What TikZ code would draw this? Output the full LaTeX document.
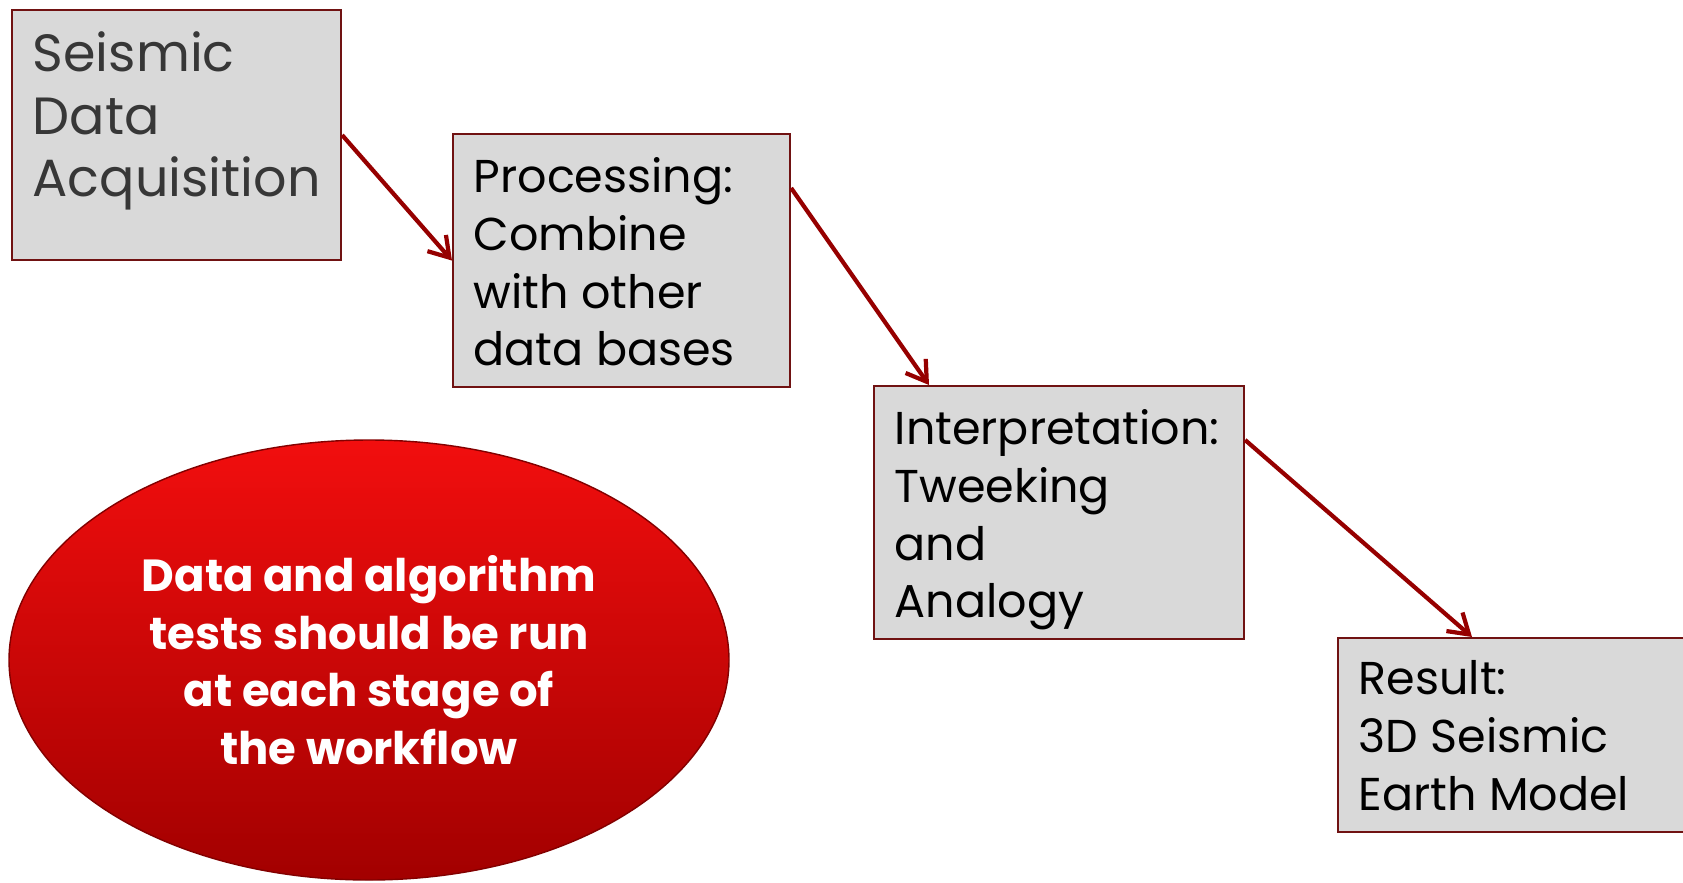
\documentclass[tikz,border=0pt]{standalone}
\usepackage{fontspec}
\setmainfont{Poppins}
\usetikzlibrary{shapes.geometric, arrows.meta, positioning, calc}
\definecolor{boxfill}{RGB}{217,217,217}
\definecolor{boxline}{RGB}{112,18,18}
\definecolor{flowred}{RGB}{150,0,0}
\definecolor{softgray}{RGB}{55,55,55}
\definecolor{bubbletop}{RGB}{242,14,14}
\definecolor{bubblemid}{RGB}{214,0,0}
\definecolor{bubblebot}{RGB}{162,0,0}

\begin{document}
\begin{tikzpicture}[
    stage/.style={draw=boxline, fill=boxfill, line width=0.6pt, anchor=north west, inner sep=0pt},
    stagetext/.style={align=left, inner sep=0pt, font=\fontsize{13.1}{16.4}\selectfont},
    flow/.style={-{Straight Barb[length=5.5pt, width=7pt]}, line width=1.2pt, flowred}
]
    \useasboundingbox (0,0) rectangle (16.83,8.82);

    % Stage boxes
    \node[stage, minimum width=3.29cm, minimum height=2.50cm] (acq) at (0.11,8.73) {};
    \node[stage, minimum width=3.37cm, minimum height=2.53cm] (proc) at (4.52,7.49) {};
    \node[stage, minimum width=3.70cm, minimum height=2.53cm] (interp) at (8.73,4.97) {};
    \node[stage, minimum width=3.70cm, minimum height=1.94cm] (result) at (13.37,2.45) {};

    % Box texts
    \node[stagetext, text=softgray, font=\fontsize{14.9}{17.8}\selectfont,
        below right=0.22cm and 0.21cm of acq.north west] (acqtxt)
        {Seismic\\Data\\Acquisition};
    \node[stagetext, below right=0.24cm and 0.21cm of proc.north west] (proctxt)
        {Processing:\\Combine\\with other\\data bases};
    \node[stagetext, below right=0.24cm and 0.21cm of interp.north west] (interptxt)
        {Interpretation:\\Tweeking\\and\\Analogy};
    \node[stagetext, below right=0.23cm and 0.21cm of result.north west] (resulttxt)
        {Result:\\3D Seismic\\Earth Model};

    % Workflow arrows
    \draw[flow] (acq.east) -- (proc.west);
    \draw[flow] ([yshift=-0.55cm]proc.north east) -- ([xshift=0.56cm]interp.north west);
    \draw[flow] ([yshift=-0.55cm]interp.north east) -- ([xshift=1.35cm]result.north west);

    % Red bubble
    \node[ellipse, minimum width=7.2cm, minimum height=4.4cm, top color=bubbletop,
        middle color=bubblemid, bottom color=bubblebot, draw=bubblebot!80!black, line width=0.4pt,
        text=white, align=center, font=\bfseries\fontsize{12.8}{16.4}\selectfont] (note) at (3.69,2.22)
        {Data and algorithm\\tests should be run\\at each stage of\\the workflow};
\end{tikzpicture}
\end{document}
